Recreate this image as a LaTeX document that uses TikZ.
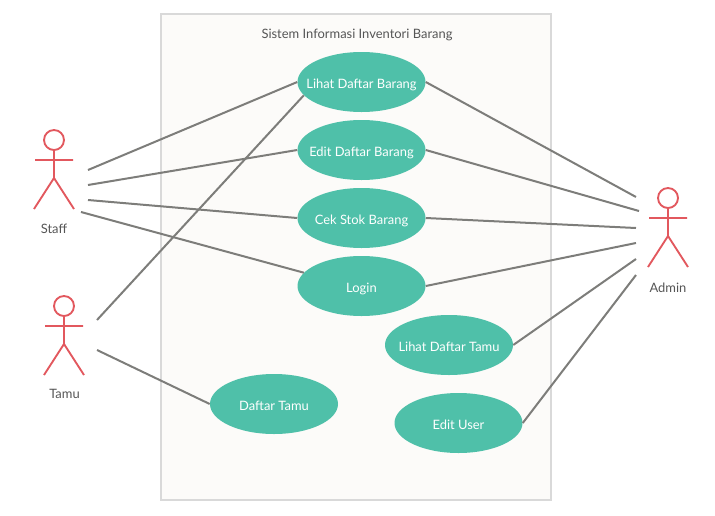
\documentclass[tikz,border=0pt]{standalone}
\usepackage{fontspec}
\setmainfont{Lato}
\definecolor{boxline}{RGB}{217,217,217}
\definecolor{boxfill}{RGB}{252,251,249}
\definecolor{usecasefill}{RGB}{79,192,169}
\definecolor{actorline}{RGB}{226,88,94}
\definecolor{linkline}{RGB}{125,125,122}
\definecolor{labeltext}{RGB}{85,85,85}
\tikzset{
  usecase/.style={ellipse,fill=usecasefill,text=white,minimum width=96pt,minimum height=45pt,inner xsep=-9pt,inner ysep=0pt,text height=9pt,text depth=0pt,font=\fontsize{9.7}{12}\selectfont},
  actorname/.style={text=labeltext,font=\fontsize{9.7}{12}\selectfont},
  link/.style={draw=linkline,line width=1.5pt},
  pics/actor/.style={code={
    \draw [actorline,line width=1.4pt] (0,0) circle (10);
    \draw [actorline,line width=1.4pt] (0,-10) -- (0,-38) (-19,-20) -- (19,-20) (-20,-69) -- (0,-38) -- (20,-69);
  }}
}
\usetikzlibrary{shapes.geometric}
\begin{document}
\begin{tikzpicture}[x=0.75pt,y=0.75pt,yscale=-1,xscale=1]
\useasboundingbox (0,0) rectangle (715,515);

%System box
\node (sistem) [draw=boxline,fill=boxfill,line width=1.5pt,minimum width=292pt,minimum height=365pt,inner sep=0pt] at (356,257) {};
\node (judul) [text=labeltext,font=\fontsize{9.7}{12}\selectfont] at (357,35) {Sistem Informasi Inventori Barang};

%Use cases
\node (lihatbarang) [usecase] at (361.5,82) {Lihat Daftar Barang};
\node (editbarang) [usecase] at (361.5,150) {Edit Daftar Barang};
\node (cekstok) [usecase] at (361.5,218) {Cek Stok Barang};
\node (login) [usecase] at (361.5,286) {Login};
\node (lihattamu) [usecase] at (449,345) {Lihat Daftar Tamu};
\node (edituser) [usecase] at (458.5,423) {Edit User};
\node (daftartamu) [usecase] at (274,404) {Daftar Tamu};

%Actors
\pic at (54,140) {actor};
\pic at (64,306) {actor};
\pic at (668,198) {actor};
\node (staff) [actorname] at (54,229) {Staff};
\node (tamu) [actorname] at (64.5,394) {Tamu};
\node (admin) [actorname] at (668,288) {Admin};

%Connector ends
\coordinate (staffa) at (88,170);
\coordinate (staffb) at (88,185);
\coordinate (staffc) at (88,200);
\coordinate (staffd) at (81,212);
\coordinate (tamua) at (97,320);
\coordinate (tamub) at (97,350);
\coordinate (admina) at (636,197);
\coordinate (adminb) at (639,211);
\coordinate (adminc) at (636,228);
\coordinate (admind) at (636,243);
\coordinate (admine) at (636,259);
\coordinate (adminf) at (636,275);

%Connectors
\draw [link] (staffa) -- (lihatbarang.west);
\draw [link] (staffb) -- (editbarang.west);
\draw [link] (staffc) -- (cekstok.west);
\draw [link] (staffd) -- (login.167);
\draw [link] (tamua) -- (lihatbarang.193);
\draw [link] (tamub) -- (daftartamu.west);
\draw [link] (lihatbarang.east) -- (admina);
\draw [link] (editbarang.east) -- (adminb);
\draw [link] (cekstok.east) -- (adminc);
\draw [link] (login.east) -- (admind);
\draw [link] (lihattamu.east) -- (admine);
\draw [link] (edituser.east) -- (adminf);
\end{tikzpicture}
\end{document}
